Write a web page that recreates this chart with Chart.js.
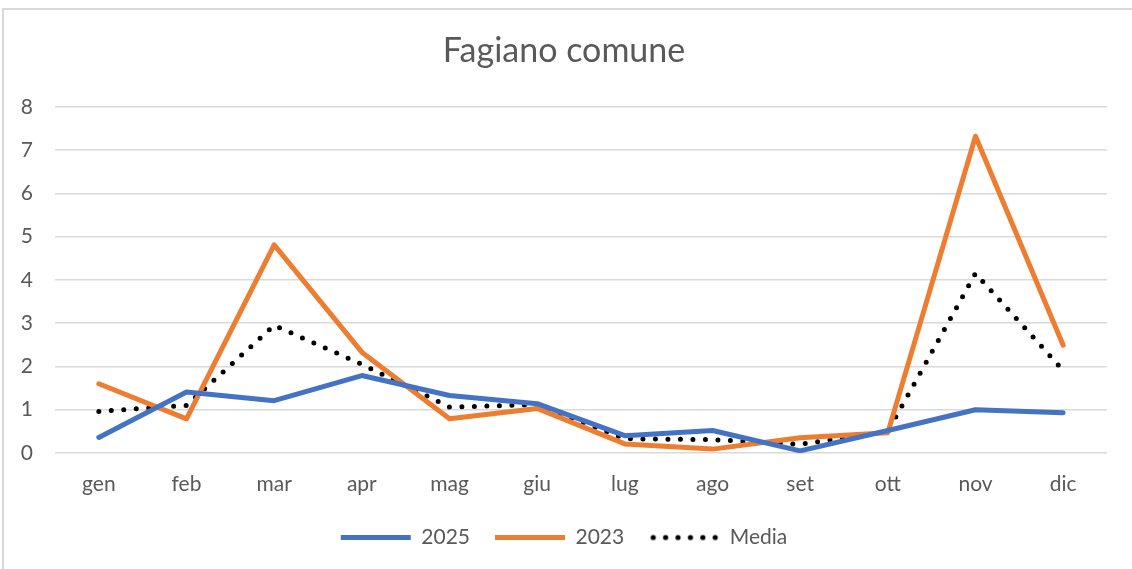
<!DOCTYPE html>
<html>
<head>
<meta charset="utf-8">
<script src="https://cdn.jsdelivr.net/npm/chart.js@4"></script>
<style>
  html, body { margin: 0; padding: 0; background: #fff; }
  #wrap { position: relative; width: 1132px; height: 569px; overflow: hidden; }
  #frame {
    position: absolute; left: 2px; top: 8px; width: 1200px; height: 600px;
    border: 2px solid #d9d9d9; box-sizing: border-box;
  }
  #c { position: absolute; left: 0; top: 0; }
</style>
</head>
<body>
<div id="wrap">
  <div id="frame"></div>
  <canvas id="c" width="1140" height="569"></canvas>
</div>
<script>
// Months and series values
const months = ['gen', 'feb', 'mar', 'apr', 'mag', 'giu', 'lug', 'ago', 'set', 'ott', 'nov', 'dic'];
const values2025 = [0.36, 1.41, 1.21, 1.79, 1.33, 1.14, 0.40, 0.52, 0.05, 0.52, 1.00, 0.93];
const values2023 = [1.60, 0.79, 4.81, 2.33, 0.79, 1.03, 0.21, 0.09, 0.35, 0.47, 7.32, 2.49];
const valuesMedia = [0.96, 1.10, 2.95, 2.05, 1.06, 1.12, 0.33, 0.31, 0.20, 0.50, 4.15, 1.91];
const chartTitle = 'Fagiano comune';

const FONT = 'Lato, "Open Sans", sans-serif';
const TEXT = '#595959';

Chart.defaults.font.family = FONT;
Chart.defaults.color = TEXT;

// Dotted sample for the "Media" legend entry (legend point styles ignore borderDash)
function dottedSample() {
  const cv = document.createElement('canvas');
  cv.width = 70;
  cv.height = 8;
  const g = cv.getContext('2d');
  g.fillStyle = '#000';
  for (let i = 0; i < 6; i++) {
    g.beginPath();
    g.arc(4 + i * 12.4, 4, 2.6, 0, Math.PI * 2);
    g.fill();
  }
  return cv;
}
const mediaSample = dottedSample();

new Chart(document.getElementById('c'), {
  type: 'line',
  data: {
    labels: months,
    datasets: [
      {
        label: '2025',
        data: values2025,
        borderColor: '#4472C4',
        backgroundColor: '#4472C4',
        borderWidth: 5,
        borderCapStyle: 'round',
        borderJoinStyle: 'round',
        pointRadius: 0,
        tension: 0,
      },
      {
        label: '2023',
        data: values2023,
        borderColor: '#ED7D31',
        backgroundColor: '#ED7D31',
        borderWidth: 5,
        borderCapStyle: 'round',
        borderJoinStyle: 'round',
        pointRadius: 0,
        tension: 0,
      },
      {
        label: 'Media',
        data: valuesMedia,
        borderColor: '#000000',
        backgroundColor: '#000000',
        borderWidth: 5,
        borderDash: [0, 12.5],
        borderCapStyle: 'round',
        borderJoinStyle: 'round',
        pointRadius: 0,
        tension: 0,
      },
    ],
  },
  options: {
    responsive: false,
    animation: false,
    events: [],
    layout: { padding: { top: 20, left: 21, right: 33, bottom: 11 } },
    scales: {
      x: {
        offset: true,
        grid: { display: false, drawTicks: false },
        border: { display: false },
        ticks: { padding: 19, font: { size: 21 }, color: TEXT },
        afterFit: (scale) => { scale.height = 49; },
      },
      y: {
        min: 0,
        max: 8,
        ticks: { stepSize: 1, padding: 22, font: { size: 21 }, color: TEXT },
        grid: { color: '#d9d9d9', lineWidth: 1.5, drawTicks: false },
        border: { display: false },
        afterFit: (scale) => { scale.width = 34; },
      },
    },
    plugins: {
      title: {
        display: true,
        text: chartTitle,
        color: TEXT,
        font: { size: 34, weight: 'normal' },
        padding: { top: 11, bottom: 35 },
      },
      legend: {
        position: 'bottom',
        labels: {
          usePointStyle: true,
          pointStyle: 'line',
          pointStyleWidth: 70,
          boxHeight: 21,
          padding: 25,
          font: { size: 21 },
          color: TEXT,
          generateLabels: (chart) => {
            const items = Chart.defaults.plugins.legend.labels.generateLabels(chart);
            items.forEach((it) => {
              if (it.text === 'Media') it.pointStyle = mediaSample;
            });
            return items;
          },
        },
      },
      tooltip: { enabled: false },
    },
  },
});
</script>
</body>
</html>
